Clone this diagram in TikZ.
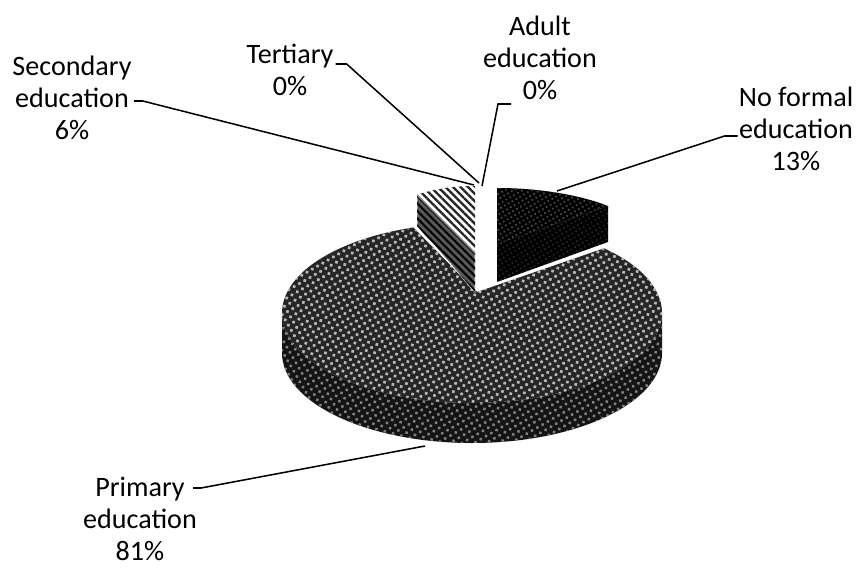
\documentclass[tikz,border=0pt]{standalone}
\usepackage{fontspec}
\setmainfont{Carlito}
\usepackage{tikz}
\usetikzlibrary{calc}
\usetikzlibrary{patterns.meta}
\tikzstyle{catlabel}=[black, shape=rectangle, inner sep=0pt, align=center, font=\fontsize{24pt}{27.5pt}\selectfont]
\tikzstyle{leader}=[black, line width=1.3pt]
\tikzstyle{primtop}=[fill=black!85, postaction={pattern={Dots[distance=5.2pt, radius=1.6pt, angle=30]}, pattern color=white!72!black}]
\tikzstyle{primside}=[fill=black!92, postaction={pattern={Dots[distance=5.2pt, radius=1.5pt, angle=30]}, pattern color=black!50}]
\tikzstyle{sectop}=[fill=white, postaction={pattern={Lines[angle=-45, distance=4.5pt, line width=2pt]}, pattern color=black!85}]
\tikzstyle{secside}=[fill=black!65, postaction={pattern={Lines[angle=-45, distance=4.5pt, line width=1.8pt]}, pattern color=black}]
\tikzstyle{noftop}=[fill=black, postaction={pattern={Dots[distance=3.8pt, radius=1pt, angle=30]}, pattern color=black!70}]
\tikzstyle{nofside}=[fill=black, postaction={pattern={Dots[distance=3.8pt, radius=0.9pt, angle=30]}, pattern color=black!82}]

\begin{document}
\begin{tikzpicture}[x=0.3mm, y=-0.3mm]
\useasboundingbox (0,0) rectangle (858,569);

% primary education
\fill[primside] (662,313) -- ++(0,40) arc[start angle=0, end angle=180, x radius=190, y radius=90] -- ++(0,-40) arc[start angle=180, end angle=0, x radius=190, y radius=90] -- cycle;
\fill[primtop] (477,292) -- (604,248.3) arc[start angle=-46, end angle=252, x radius=190, y radius=90] -- cycle;

% secondary education
\draw[secside, draw=white, line width=0.8pt] (417,195) -- (475,253) -- (475,292) -- (417,226) -- cycle;
\draw[sectop, draw=white, line width=0.8pt] (475,253) -- (417,195) .. controls (436,188) and (456,186) .. (475,186) -- cycle;

% no formal education
\fill[nofside] (497,244) -- (608,206) -- (608,242) -- (497,282) -- cycle;
\fill[noftop] (497,244) -- (497,188) .. controls (540,188) and (580,195) .. (608,206) -- cycle;

% labels
\node[catlabel] (sec) at (72,98) {Secondary\\education\\6\%};
\node[catlabel] (ter) at (290,70) {Tertiary\\0\%};
\node[catlabel] (adu) at (540,58) {Adult\\education\\0\%};
\node[catlabel] (nof) at (796,129) {No formal\\education\\13\%};
\node[catlabel] (pri) at (140,519) {Primary\\education\\81\%};

\coordinate (secEnd) at (474,185);
\coordinate (terEnd) at (479,183);
\coordinate (aduEnd) at (482,186);
\coordinate (aduTick) at (511,104);
\coordinate (nofEnd) at (557,191);
\coordinate (priEnd) at (425,446);

\draw[leader] ($(sec.east)+(2,3)$) -- ++(9,0) -- (secEnd);
\draw[leader] ($(ter.east)+(2,-6)$) -- ++(11,0) -- (terEnd);
\draw[leader] (aduTick) -- ++(-13,0) -- (aduEnd);
\draw[leader] ($(nof.west)+(-1,7)$) -- ++(-13,0) -- (nofEnd);
\draw[leader] ($(pri.east)+(-4,-31)$) -- ++(8,0) -- (priEnd);
\end{tikzpicture}
\end{document}
